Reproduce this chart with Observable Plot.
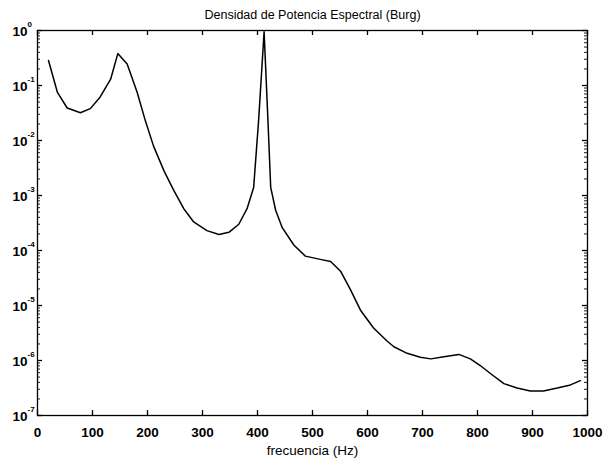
<!DOCTYPE html>
<html>
<head>
<meta charset="utf-8">
<script src="https://cdn.jsdelivr.net/npm/d3@7"></script>
<script src="https://cdn.jsdelivr.net/npm/@observablehq/plot@0.6"></script>
<style>
  html, body { margin: 0; padding: 0; background: #fff; }
  svg { display: block; }
</style>
</head>
<body>
<div id="chart"></div>
<script>
const title = "Densidad de Potencia Espectral (Burg)";
const xLabel = "frecuencia (Hz)";
const xTicks = [0, 100, 200, 300, 400, 500, 600, 700, 800, 900, 1000];
const yDecades = [1, 1e-1, 1e-2, 1e-3, 1e-4, 1e-5, 1e-6, 1e-7];
const yExponents = ["0", "-1", "-2", "-3", "-4", "-5", "-6", "-7"];

const freq = [20, 36, 54, 78, 96, 114, 133, 146, 163, 181, 196, 211, 230, 248, 266, 284, 308, 330, 348, 366, 381, 393, 402, 412, 419, 424, 433, 445, 466, 487, 514, 533, 551, 569, 587, 611, 636, 648, 672, 696, 715, 739, 766, 787, 805, 824, 848, 872, 896, 920, 945, 969, 987];
const psd = [0.285, 0.076, 0.039, 0.032, 0.038, 0.062, 0.13, 0.38, 0.245, 0.076, 0.023, 0.0079, 0.0028, 0.00123, 5.75e-4, 3.3e-4, 2.3e-4, 1.95e-4, 2.14e-4, 3.0e-4, 5.75e-4, 1.4e-3, 0.023, 0.95, 0.023, 1.4e-3, 5.4e-4, 2.6e-4, 1.26e-4, 7.9e-5, 6.9e-5, 6.3e-5, 4.2e-5, 1.95e-5, 8.3e-6, 3.9e-6, 2.24e-6, 1.78e-6, 1.35e-6, 1.15e-6, 1.07e-6, 1.17e-6, 1.29e-6, 1.07e-6, 8.1e-7, 5.75e-7, 3.8e-7, 3.16e-7, 2.8e-7, 2.8e-7, 3.16e-7, 3.6e-7, 4.3e-7];

const data = freq.map((f, i) => ({f, v: psd[i]}));
const decadeRows = yDecades.map((d, i) => ({d, e: yExponents[i]}));
const minorTicks = [];
for (const d of yDecades.slice(1)) for (let k = 2; k <= 9; k++) minorTicks.push(d * k);

const W = 611, H = 466, mL = 37, mR = 24, mT = 30, mB = 51;
const plotW = W - mL - mR, plotH = H - mT - mB;
const major = 5, minor = 3;
const font = "Liberation Sans, Arial, Helvetica, sans-serif";

const chart = Plot.plot({
  width: W,
  height: H,
  marginLeft: mL,
  marginRight: mR,
  marginTop: mT,
  marginBottom: mB,
  style: {fontFamily: font, background: "#fff", color: "#000"},
  x: {domain: [0, 1000], axis: null},
  y: {type: "log", domain: [1e-7, 1], axis: null},
  marks: [
    // inward ticks (MATLAB style)
    Plot.ruleX(xTicks, {x: d => d, insetTop: plotH - major, stroke: "#000", strokeWidth: 1.3}),
    Plot.ruleX(xTicks, {x: d => d, insetBottom: plotH - major, stroke: "#000", strokeWidth: 1.3}),
    Plot.ruleY(yDecades, {y: d => d, insetRight: plotW - major, stroke: "#000", strokeWidth: 1.3}),
    Plot.ruleY(yDecades, {y: d => d, insetLeft: plotW - major, stroke: "#000", strokeWidth: 1.3}),
    Plot.ruleY(minorTicks, {y: d => d, insetRight: plotW - minor, stroke: "#000", strokeWidth: 0.9}),
    Plot.ruleY(minorTicks, {y: d => d, insetLeft: plotW - minor, stroke: "#000", strokeWidth: 0.9}),
    Plot.frame({stroke: "#000", strokeWidth: 1.3}),
    // tick labels
    Plot.text(xTicks, {x: d => d, frameAnchor: "bottom", text: d => String(d), lineAnchor: "top", dy: 12, fontSize: 13.5, fontWeight: "bold"}),
    Plot.text(decadeRows, {y: "d", frameAnchor: "left", text: () => "10", textAnchor: "end", dx: -10, dy: 1, fontSize: 13.5, fontWeight: "bold"}),
    Plot.text(decadeRows, {y: "d", frameAnchor: "left", text: "e", textAnchor: "start", dx: -10, dy: -6, fontSize: 8, fontWeight: "bold"}),
    // data
    Plot.line(data, {x: "f", y: "v", stroke: "#000", strokeWidth: 1.5}),
    // titles
    Plot.text([title], {frameAnchor: "top", dy: -20, fontSize: 12.5, text: d => d}),
    Plot.text([xLabel], {frameAnchor: "bottom", dy: 39, fontSize: 13.5, text: d => d})
  ]
});
document.getElementById("chart").appendChild(chart);
</script>
</body>
</html>
